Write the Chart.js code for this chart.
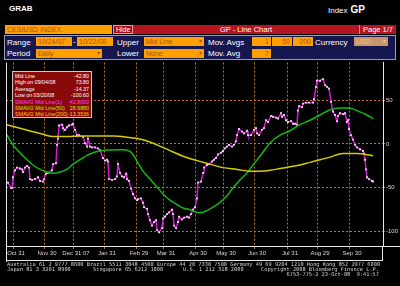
<!DOCTYPE html>
<html lang="en">
<head>
<meta charset="UTF-8">
<title>CESIUSD Index - GP Line Chart</title>
<script src="https://cdn.jsdelivr.net/npm/chart.js@4"></script>
<style>
  html, body { margin: 0; padding: 0; background: #000; }
  body { width: 400px; height: 286px; position: relative; overflow: hidden;
         font-family: "Liberation Sans", Arial, sans-serif; color: #fff; }
  .abs { position: absolute; white-space: nowrap; }
  #grab { left: 9px; top: 4px; font-size: 8px; font-weight: bold; }
  #idx { left: 328px; top: 4px; font-size: 8px; }
  #idx b { font-size: 10px; margin-left: 3px; }
  .field { position: absolute; background: #ffa000; color: #a85200; font-size: 7px;
           line-height: 9px; height: 9px; padding: 0 2px; box-sizing: border-box; white-space: nowrap; overflow: hidden; }
  .field.num { text-align: right; }
  .field .arr { position: absolute; right: 2px; top: 0; font-size: 6px; }
  .lbl { position: absolute; font-size: 8px; line-height: 9px; color: #fff; white-space: nowrap; }
  #secBox { left: 5px; top: 25px; width: 107px; }
  #hide { left: 113px; top: 25px; width: 20px; height: 9px; background: #a50e18; box-sizing: border-box;
          border: 1px solid #e4a0a0; font-size: 7px; line-height: 7px; padding-left: 2px; }
  #redbar { left: 133px; top: 25px; width: 263px; height: 9px; background: #b51520; }
  #title { left: 220px; top: 25px; font-size: 7.5px; line-height: 9px; }
  #page { left: 359px; top: 25px; width: 37px; height: 9px; border-left: 1px solid #e08080;
          box-sizing: border-box; font-size: 7.5px; line-height: 9px; padding-left: 3px; }
  #panel { left: 4px; top: 35px; width: 392px; height: 25px; background: #17174f;
           border: 1px solid #9a9ab0; box-sizing: border-box; }
  #usd { background: #c8966a; color: #ecc090; }
  #chartBox { position: absolute; left: 0; top: 58px; width: 400px; height: 204px; }
  #legendBox { left: 12px; top: 71px; width: 80px; height: 47px; background: #8a0a0a;
               border: 1px solid #c8c8c8; box-sizing: border-box; padding: 1px 2px 0 2px;
               font-size: 5.3px; line-height: 6.4px; z-index: 5; }
  #legendBox div { display: flex; justify-content: space-between; }
  .foot { position: absolute; font-family: "DejaVu Sans Mono", monospace; font-size: 5.3px;
          line-height: 5px; color: #d4d4d4; white-space: pre; }
</style>
</head>
<body>
  <div class="abs" id="grab">GRAB</div>
  <div class="abs" id="idx">Index<b>GP</b></div>

  <div class="field" id="secBox">CESIUSD INDEX</div>
  <div class="abs" id="redbar"></div>
  <div class="abs" id="hide">Hide</div>
  <div class="abs" id="title">GP - Line Chart</div>
  <div class="abs" id="page">Page 1/7</div>

  <div class="abs" id="panel"></div>
  <div class="lbl" style="left:7px;top:38px">Range</div>
  <div class="field" style="left:36px;top:37px;width:36px">10/24/07</div>
  <div class="lbl" style="left:73px;top:37px">-</div>
  <div class="field" style="left:77px;top:37px;width:36px">10/22/08</div>
  <div class="lbl" style="left:117px;top:38px">Upper</div>
  <div class="field" style="left:144px;top:37px;width:60px">Mid Line<span class="arr">&#9662;</span></div>
  <div class="lbl" style="left:208px;top:38px">Mov. Avgs</div>
  <div class="field num" style="left:252px;top:37px;width:19px">1</div>
  <div class="field num" style="left:272px;top:37px;width:20px">50</div>
  <div class="field num" style="left:293px;top:37px;width:20px">200</div>
  <div class="lbl" style="left:315px;top:38px">Currency</div>
  <div class="field" id="usd" style="left:354px;top:37px;width:34px">USD<span class="arr">&#9662;</span></div>

  <div class="lbl" style="left:7px;top:49px">Period</div>
  <div class="field" style="left:36px;top:49px;width:66px">Daily<span class="arr">&#9662;</span></div>
  <div class="lbl" style="left:117px;top:49px">Lower</div>
  <div class="field" style="left:144px;top:49px;width:60px">None<span class="arr">&#9662;</span></div>
  <div class="lbl" style="left:208px;top:49px">Mov. Avg</div>
  <div class="field num" style="left:252px;top:49px;width:19px">7</div>

  <div id="chartBox"><canvas id="gpChart"></canvas></div>

  <div class="abs" id="legendBox">
    <div><span>Mid Line</span><span>-42.80</span></div>
    <div><span>High on 09/04/08</span><span>73.80</span></div>
    <div><span>Average</span><span>-14.37</span></div>
    <div><span>Low on 03/20/08</span><span>-100.60</span></div>
    <div style="color:#ff44ff"><span>SMAVG Mid Line(1)</span><span>-42.8000</span></div>
    <div style="color:#b8f000"><span>SMAVG Mid Line(50)</span><span>28.6880</span></div>
    <div style="color:#ffc820"><span>SMAVG Mid Line(200)</span><span>-13.3536</span></div>
  </div>

  <div class="foot" style="left:7px;top:262px">Australia 61 2 9777 8600 Brazil 5511 3048 4500 Europe 44 20 7330 7500 Germany 49 69 9204 1210 Hong Kong 852 2977 6000</div>
  <div class="foot" style="left:7px;top:267px">Japan 81 3 3201 8900</div>
  <div class="foot" style="left:93px;top:267px">Singapore 65 6212 1000</div>
  <div class="foot" style="left:183px;top:267px">U.S. 1 212 318 2000</div>
  <div class="foot" style="right:21px;top:267px">Copyright 2008 Bloomberg Finance L.P.</div>
  <div class="foot" style="right:21px;top:272px">6753-775-2 23-Oct-08  9:41:57</div>

<script>
// x positions are plot units (about one per calendar day from 10/24/07)
const tickIdx = [7, 38, 67, 98, 130, 157, 189, 217, 248, 281, 311, 343];
const tickLabels = ['Oct 31', 'Nov 30', 'Dec 31 07', 'Jan 31', 'Feb 29', 'Mar 31',
                    'Apr 30', 'May 30', 'Jun 30', 'Jul 31', 'Aug 29', 'Sep 30'];
const yTicks = [-100, -50, 0, 50];

const midIdx = [0, 2, 5, 6, 7, 9, 11, 14, 16, 17, 19, 21, 23, 24, 26, 29, 32, 34, 37, 38,
  40, 42, 46, 47, 50, 51, 52, 53, 56, 57, 59, 61, 63, 66, 67, 69, 71, 73, 77, 79,
  81, 82, 84, 86, 89, 92, 94, 97, 99, 101, 102, 103, 106, 109, 111, 112, 114, 116, 118, 120,
  121, 123, 125, 127, 129, 131, 132, 135, 137, 138, 141, 142, 144, 146, 148, 150, 151, 153, 156, 157,
  159, 161, 163, 166, 167, 168, 170, 172, 173, 176, 178, 181, 183, 185, 187, 189, 191, 192, 195, 197,
  198, 201, 203, 206, 208, 210, 212, 215, 217, 219, 221, 223, 226, 228, 230, 231, 233, 236, 238, 241,
  242, 245, 248, 250, 251, 253, 256, 258, 260, 262, 265, 267, 270, 272, 275, 276, 278, 280, 282, 285,
  287, 289, 291, 292, 293, 296, 297, 300, 303, 307, 308, 310, 311, 314, 317, 319, 321, 323, 325, 327,
  329, 331, 332, 334, 337, 339, 341, 342, 343, 345, 347, 349, 351, 354, 357, 358, 359, 360, 361, 363,
  366, 367];
const midLine = [-43, -44, -50, -50, -38, -30, -27, -28, -29, -32, -27, -25, -27, -40, -41, -40, -38, -42, -43, -40,
  -34, -33, -30, -23, -22, -1, 6, 21, 22, 18, 16, 19, 21, 22, 23, 16, 10, 10, 8, 1,
  -3, 6, -3, -4, -4, -5, -7, -16, -19, -18, -20, -40, -41, -40, -37, -23, -33, -37, -38, -34,
  -40, -42, -51, -57, -62, -64, -63, -62, -67, -72, -74, -80, -87, -93, -89, -87, -98, -100.6, -96, -85,
  -83, -80, -78, -75, -80, -93, -96, -89, -83, -86, -84, -83, -84, -80, -75, -72, -62, -44, -43, -33,
  -27, -24, -23, -20, -18, -16, -12, -10, -8, -5, -3, -1, -3, -1, 3, 10, 17, 14, 12, 15,
  10, 10, 16, 18, 12, 10, 16, 18, 27, 25, 32, 31, 30, 29, 35, 31, 33, 27, 25, 26,
  23, 23, 22, 38, 43, 42, 46, 47, 47, 47, 51, 65, 72, 72, 73.8, 67, 65, 63, 48, 37,
  33, 26, 32, 35, 34, 35, 25, 27, 17, 10, 5, -1, -4, -6, -8, -11, -18, -29, -38, -40,
  -42, -42.8];

const ma50Idx = [0, 7, 14, 21, 27, 34, 41, 47, 54, 61, 67, 74, 81, 87, 94, 101, 107, 117, 124, 127,
  131, 137, 144, 151, 157, 164, 171, 177, 184, 191, 196, 201, 207, 214, 221, 227, 234, 241, 247, 254,
  264, 274, 284, 294, 304, 314, 324, 334, 341, 347, 354, 361, 367];
const ma50 = [12, -1, -10, -18, -24, -29, -32, -33.5, -32, -29, -23, -18, -13, -10, -8, -7, -7, -6.5, -8.5, -12,
  -20, -31, -40, -49, -57, -64, -69, -73, -75, -78, -78, -76, -72, -66.5, -59, -50, -41, -33, -24, -14,
  1, 10, 15, 22, 27, 33, 39, 41, 41, 40, 36.5, 33, 28.7];

const ma200Idx = [0, 14, 27, 37, 47, 61, 77, 94, 107, 121, 137, 151, 164, 177, 191, 204, 217, 231, 244, 254,
  264, 274, 284, 294, 304, 314, 324, 337, 351, 367];
const ma200 = [22, 18, 14, 11, 8.4, 8.4, 9, 9, 9, 7.6, 4.7, -1, -7.6, -14, -19, -23, -27, -29, -31, -31,
  -30, -28, -26, -24, -21, -18, -15, -11, -11, -13.35];

const pts = (xs, ys) => xs.map((x, i) => ({ x: x, y: ys[i] }));

const gridColor = '#c27228';
const frameColor = '#e6e6e6';
const tickFont = { family: '"Liberation Sans", Arial, sans-serif', size: 6 };

// white frame around the plot and the date strip
const framePlugin = {
  id: 'frame',
  afterDraw(chart) {
    const { ctx, chartArea: a } = chart;
    const h = chart.height;
    ctx.save();
    ctx.strokeStyle = frameColor;
    ctx.lineWidth = 1;
    ctx.beginPath();
    ctx.moveTo(a.left + 0.5, a.top);
    ctx.lineTo(a.left + 0.5, h);
    ctx.moveTo(a.left, h - 1.5);
    ctx.lineTo(a.right, h - 1.5);
    ctx.moveTo(a.right - 0.5, a.bottom);
    ctx.lineTo(a.right - 0.5, h - 1);
    ctx.moveTo(a.right, a.bottom + 0.5);
    ctx.lineTo(chart.width, a.bottom + 0.5);
    ctx.stroke();
    ctx.restore();
  }
};

new Chart(document.getElementById('gpChart'), {
  type: 'line',
  data: {
    datasets: [
      {
        label: 'SMAVG Mid Line(200)',
        data: pts(ma200Idx, ma200),
        borderColor: '#d8cc00',
        borderWidth: 1.5,
        pointRadius: 0,
        cubicInterpolationMode: 'monotone'
      },
      {
        label: 'SMAVG Mid Line(50)',
        data: pts(ma50Idx, ma50),
        borderColor: '#12b812',
        borderWidth: 1.5,
        pointRadius: 0,
        cubicInterpolationMode: 'monotone'
      },
      {
        label: 'Mid Line',
        data: pts(midIdx, midLine),
        borderColor: '#d41cd4',
        borderWidth: 1.5,
        pointStyle: 'rect',
        pointRadius: 1.3,
        pointBorderWidth: 0,
        pointBackgroundColor: '#f2d6f2',
        tension: 0
      }
    ]
  },
  options: {
    responsive: true,
    maintainAspectRatio: false,
    animation: false,
    layout: { padding: { left: 6, top: 2, right: 0, bottom: 0 } },
    plugins: { legend: { display: false }, tooltip: { enabled: false } },
    scales: {
      x: {
        type: 'linear',
        min: 0,
        max: 377,
        afterBuildTicks: s => { s.ticks = tickIdx.map(v => ({ value: v })); },
        afterFit: s => { s.height = 16; },
        grid: { color: gridColor, lineWidth: 1, tickLength: 3, tickColor: gridColor },
        border: { color: frameColor, dash: [2, 2] },
        ticks: {
          color: '#d8d8d8',
          font: tickFont,
          padding: 1,
          autoSkip: false,
          maxRotation: 0,
          labelOffset: 3,
          callback: (v, i) => tickLabels[i]
        }
      },
      y: {
        position: 'right',
        min: -116.3,
        max: 92.7,
        afterBuildTicks: s => { s.ticks = yTicks.map(v => ({ value: v })); },
        afterFit: s => { s.width = 17; },
        grid: { color: gridColor, lineWidth: 1, tickLength: 2, tickColor: gridColor },
        border: { color: frameColor, dash: [2, 2] },
        ticks: { color: '#d8d8d8', font: tickFont, padding: 1 }
      }
    }
  },
  plugins: [framePlugin]
});
</script>
</body>
</html>
